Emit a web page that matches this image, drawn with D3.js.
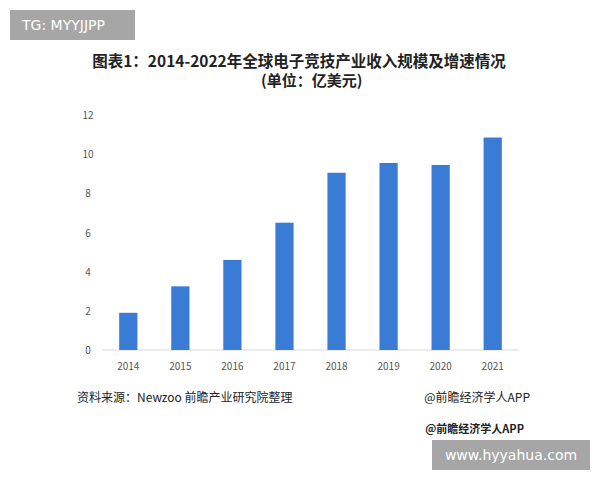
<!DOCTYPE html>
<html><head><meta charset="utf-8">
<script src="https://cdn.jsdelivr.net/npm/d3@7"></script>
<style>body{margin:0;background:#fff}svg{display:block;font-family:"Noto Sans CJK SC","Noto Sans",sans-serif}</style>
</head><body><svg id="c" width="600" height="480"></svg>
<script>
var years = ["2014","2015","2016","2017","2018","2019","2020","2021"];
var revenue = [1.9, 3.25, 4.6, 6.5, 9.05, 9.55, 9.45, 10.85];
var yTicks = [0, 2, 4, 6, 8, 10, 12];

var svg = d3.select("#c");
var x = d3.scaleBand().domain(years).range([102, 519]).paddingInner(0.65).paddingOuter(0.33);
var y = d3.scaleLinear().domain([0, 12]).range([350, 115]);

svg.append("text").attr("x", 299).attr("y", 67).attr("text-anchor", "middle")
  .attr("font-size", 15.5).attr("font-weight", "bold").attr("fill", "#222")
  .text("图表1：2014-2022年全球电子竞技产业收入规模及增速情况");
svg.append("text").attr("x", 261).attr("y", 86)
  .attr("font-size", 15).attr("font-weight", "bold").attr("fill", "#222")
  .text("(单位：亿美元)");

svg.append("line").attr("x1", 102).attr("x2", 519).attr("y1", y(0)).attr("y2", y(0))
  .attr("stroke", "#d9d9d9");

svg.selectAll(".yt").data(yTicks).enter().append("text")
  .attr("x", 88).attr("y", function(d) { return y(d) + 4; })
  .attr("text-anchor", "middle").attr("font-size", 10).attr("fill", "#555")
  .text(function(d) { return d; });

svg.selectAll(".bar").data(revenue).enter().append("rect")
  .attr("x", function(d, i) { return x(years[i]); })
  .attr("width", x.bandwidth())
  .attr("y", function(d) { return y(d); })
  .attr("height", function(d) { return y(0) - y(d); })
  .attr("fill", "#3a7bd5");

svg.selectAll(".xt").data(years).enter().append("text")
  .attr("x", function(d) { return x(d) + x.bandwidth() / 2; }).attr("y", 370)
  .attr("text-anchor", "middle").attr("font-size", 10).attr("fill", "#555")
  .text(function(d) { return d; });

svg.append("text").attr("x", 77).attr("y", 402).attr("font-size", 12).attr("fill", "#222")
  .text("资料来源：Newzoo 前瞻产业研究院整理");
svg.append("text").attr("x", 530).attr("y", 402).attr("text-anchor", "end")
  .attr("font-size", 12).attr("fill", "#222").text("@前瞻经济学人APP");
svg.append("text").attr("x", 524).attr("y", 433).attr("text-anchor", "end")
  .attr("font-size", 11).attr("font-weight", "bold").attr("fill", "#222").text("@前瞻经济学人APP");

svg.append("rect").attr("x", 10).attr("y", 10).attr("width", 125).attr("height", 30).attr("fill", "#a6a6a6");
svg.append("text").attr("x", 22).attr("y", 30).attr("font-size", 14).attr("fill", "#fff")
  .attr("font-family", "DejaVu Sans").text("TG: MYYJJPP");
svg.append("rect").attr("x", 432).attr("y", 440).attr("width", 158).attr("height", 30).attr("fill", "#a6a6a6");
svg.append("text").attr("x", 511).attr("y", 460).attr("text-anchor", "middle").attr("font-size", 14)
  .attr("fill", "#fff").attr("font-family", "DejaVu Sans").text("www.hyyahua.com");
</script></body></html>
